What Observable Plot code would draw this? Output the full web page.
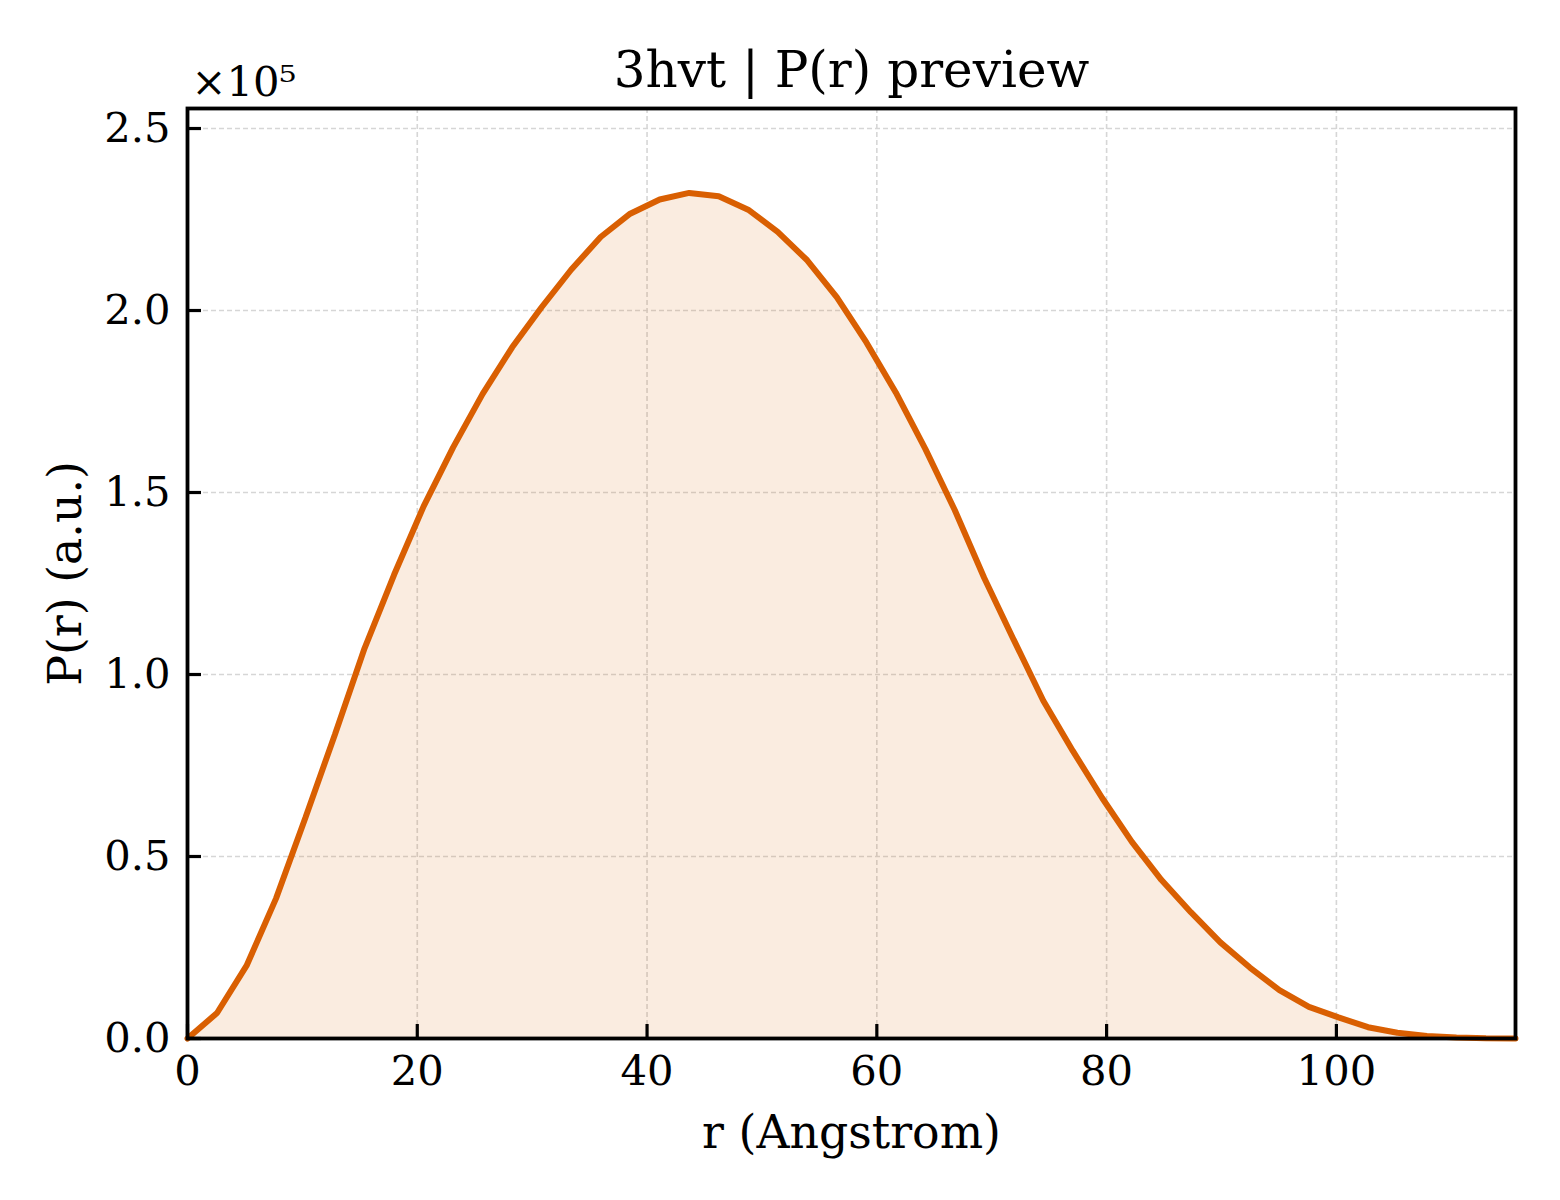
<!DOCTYPE html>
<html>
<head>
<meta charset="utf-8">
<script src="https://cdn.jsdelivr.net/npm/d3@7"></script>
<script src="https://cdn.jsdelivr.net/npm/@observablehq/plot@0.6"></script>
<style>
  html, body { margin: 0; padding: 0; background: #fff; }
  #chart svg { display: block; }
</style>
</head>
<body>
<div id="chart"></div>
<script>
// r in Angstrom
const r = [0, 2.57, 5.14, 7.71, 10.27, 12.84, 15.41, 17.98, 20.55, 23.12,
  25.69, 28.26, 30.82, 33.39, 35.96, 38.53, 41.10, 43.67, 46.24, 48.80,
  51.37, 53.94, 56.51, 59.08, 61.65, 64.22, 66.78, 69.35, 71.92, 74.49,
  77.06, 79.63, 82.20, 84.76, 87.33, 89.90, 92.47, 95.04, 97.61, 100.18,
  102.75, 105.31, 107.88, 110.45, 113.02, 115.59];
// P(r) in units of 1e5 (a.u.)
const pr = [0, 0.07, 0.20, 0.385, 0.607, 0.836, 1.072, 1.274, 1.462, 1.624,
  1.771, 1.899, 2.009, 2.112, 2.202, 2.266, 2.305, 2.323, 2.314, 2.277,
  2.216, 2.138, 2.037, 1.913, 1.775, 1.620, 1.452, 1.265, 1.095, 0.928,
  0.790, 0.660, 0.540, 0.436, 0.347, 0.264, 0.195, 0.133, 0.087, 0.058,
  0.031, 0.016, 0.007, 0.003, 0.001, 0.0];
const xTicks = [0, 20, 40, 60, 80, 100];
const yTicks = [0, 0.5, 1.0, 1.5, 2.0, 2.5];
const xDomain = [0, 115.59];
const yDomain = [0, 2.555];
const titleText = "3hvt | P(r) preview";
const xLabel = "r (Angstrom)";
const yLabel = "P(r) (a.u.)";
const offsetText = "×10⁵";

const data = r.map((v, i) => ({r: v, p: pr[i]}));

const W = 1560, H = 1200;
const mL = 187, mR = 45, mT = 108, mB = 162;
const fw = W - mL - mR, fh = H - mT - mB;
const color = "#d95f02";
const tickLen = 14;
// inward tick lengths expressed in data units of each scale
const xTickData = tickLen * (xDomain[1] - xDomain[0]) / fw;
const yTickData = tickLen * (yDomain[1] - yDomain[0]) / fh;

const gridStyle = {stroke: "#d6d6d6", strokeOpacity: 1, strokeWidth: 1.6, strokeDasharray: "5,3"};

const chart = Plot.plot({
  width: W,
  height: H,
  marginLeft: mL,
  marginRight: mR,
  marginTop: mT,
  marginBottom: mB,
  style: {fontFamily: "'DejaVu Serif', serif", color: "black", background: "white"},
  x: {domain: xDomain, ticks: xTicks},
  y: {domain: yDomain, ticks: yTicks},
  marks: [
    Plot.gridX(xTicks, gridStyle),
    Plot.gridY(yTicks, gridStyle),
    Plot.areaY(data, {x: "r", y: "p", fill: color, fillOpacity: 0.12}),
    Plot.line(data, {x: "r", y: "p", stroke: color, strokeWidth: 6, strokeLinejoin: "miter"}),
    Plot.ruleX(xTicks, {x: d => d, y1: yDomain[0], y2: yDomain[0] + yTickData, stroke: "black", strokeWidth: 3.2}),
    Plot.ruleY(yTicks, {y: d => d, x1: xDomain[0], x2: xDomain[0] + xTickData, stroke: "black", strokeWidth: 3.2}),
    Plot.frame({stroke: "black", strokeWidth: 3.8}),
    Plot.axisX(xTicks, {tickSize: 0, tickPadding: 17, fontSize: 41.7, label: null, tickFormat: d3.format("d")}),
    Plot.axisY(yTicks, {tickSize: 0, tickPadding: 17, fontSize: 41.7, label: null, tickFormat: d3.format(".1f")}),
    Plot.text([titleText], {frameAnchor: "top", dy: -22, fontSize: 50, lineAnchor: "bottom", fill: "black"}),
    Plot.text([offsetText], {frameAnchor: "top-left", dx: 4, dy: -13, fontSize: 41.7, lineAnchor: "bottom", textAnchor: "start", fill: "black"}),
    Plot.text([xLabel], {frameAnchor: "bottom", dy: 109, fontSize: 45.8, lineAnchor: "bottom", fill: "black"}),
    Plot.text([yLabel], {frameAnchor: "left", dx: -107, rotate: -90, fontSize: 45.8, lineAnchor: "bottom", textAnchor: "middle", fill: "black"})
  ]
});
document.getElementById("chart").appendChild(chart);
</script>
</body>
</html>
